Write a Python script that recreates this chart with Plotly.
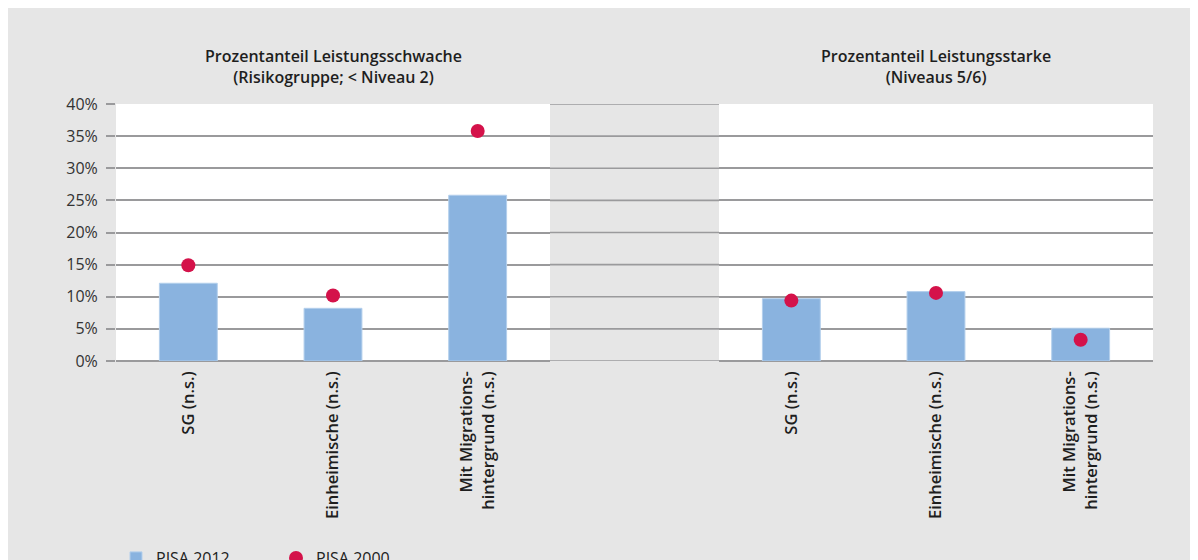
import plotly.graph_objects as go

# ---- data ----
categories = ["SG (n.s.)", "Einheimische (n.s.)", "Mit Migrations-<br>hintergrund (n.s.)"]
panel_titles = [
    "Prozentanteil Leistungsschwache<br>(Risikogruppe; < Niveau 2)",
    "Prozentanteil Leistungsstarke<br>(Niveaus 5/6)",
]
pisa2012_low = [12.1, 8.2, 25.8]
pisa2000_low = [14.9, 10.2, 35.8]
pisa2012_high = [9.7, 10.8, 5.1]
pisa2000_high = [9.4, 10.6, 3.3]
y_ticks = [0, 5, 10, 15, 20, 25, 30, 35, 40]
y_ticktext = ["0%", "5%", "10%", "15%", "20%", "25%", "30%", "35%", "40%"]

# ---- style ----
BAR = "#8ab3df"
BAR_EDGE = "#b3cfec"
DOT = "#d4124a"
GRID = "#9a9a9c"
BG = "#e6e6e6"
FONT = "Open Sans"

W, H = 1215, 560
L, T, B = 108, 96, 207
plot_right = 1145
R = W - plot_right
plot_w = plot_right - L
plot_h = H - T - B
left_dom = [0, (542 - L) / plot_w]
right_dom = [(711 - L) / plot_w, 1]

fig = go.Figure()
fig.add_trace(go.Bar(x=categories, y=pisa2012_low, name="PISA 2012", xaxis="x", yaxis="y",
                     marker=dict(color=BAR, line=dict(color=BAR_EDGE, width=1)), legendgroup="a"))
fig.add_trace(go.Scatter(x=categories, y=pisa2000_low, name="PISA 2000", mode="markers", xaxis="x", yaxis="y",
                         marker=dict(color=DOT, size=14), legendgroup="b"))
fig.add_trace(go.Bar(x=categories, y=pisa2012_high, name="PISA 2012", xaxis="x2", yaxis="y2",
                     marker=dict(color=BAR, line=dict(color=BAR_EDGE, width=1)), legendgroup="a", showlegend=False))
fig.add_trace(go.Scatter(x=categories, y=pisa2000_high, name="PISA 2000", mode="markers", xaxis="x2", yaxis="y2",
                         marker=dict(color=DOT, size=14), legendgroup="b", showlegend=False))

xcommon = dict(type="category", tickangle=-90, showgrid=False, zeroline=False, showline=False, ticks="",
               ticklabelstandoff=6,
               tickfont=dict(family=FONT, size=16.5, color="#1e1e1e", weight=600), fixedrange=True)
ycommon = dict(range=[0, 40], tickvals=y_ticks, ticktext=y_ticktext, showgrid=True, gridcolor=GRID,
               gridwidth=1.6, zeroline=True, zerolinecolor=GRID, zerolinewidth=1.6, showline=False,
               fixedrange=True)

fig.update_layout(
    width=W, height=H,
    margin=dict(l=L, r=R, t=T, b=B, autoexpand=False),
    paper_bgcolor=BG, plot_bgcolor="white",
    bargap=0.6,
    xaxis=dict(domain=left_dom, anchor="y", **xcommon),
    xaxis2=dict(domain=right_dom, anchor="y2", **xcommon),
    yaxis=dict(anchor="x", ticks="outside", ticklen=9, tickcolor=GRID, tickwidth=1.6,
               ticklabelstandoff=5,
               tickfont=dict(family=FONT, size=16, color="#333333"), **ycommon),
    yaxis2=dict(anchor="x2", matches="y", showticklabels=False, ticks="", **ycommon),
    showlegend=True,
    legend=dict(orientation="h", x=0.0, xanchor="left", y=(353 - 533) / plot_h, yanchor="top",
                font=dict(family=FONT, size=16, color="#222222"), bgcolor="rgba(0,0,0,0)",
                itemwidth=30, entrywidth=115, traceorder="normal"),
    font=dict(family=FONT),
)

shapes = []
# gridlines running across the gap between the two panels
for v in y_ticks:
    shapes.append(dict(type="line", xref="paper", yref="y", x0=left_dom[1], x1=right_dom[0], y0=v, y1=v,
                       line=dict(color=GRID, width=1.6), layer="above"))
fig.update_layout(shapes=shapes)

for dom, title in zip([left_dom, right_dom], panel_titles):
    fig.add_annotation(text=title, xref="paper", yref="paper", x=(dom[0] + dom[1]) / 2,
                       y=(353 - 82) / plot_h, xanchor="center", yanchor="bottom", showarrow=False,
                       font=dict(family=FONT, size=16, color="#1e1e1e", weight=600), align="center")

fig.write_html("out.html")
